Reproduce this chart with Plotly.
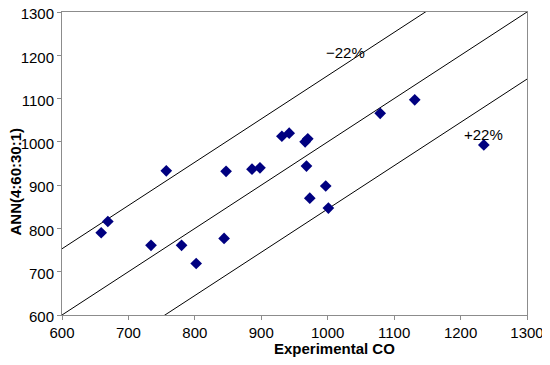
import plotly.graph_objects as go

exp_co = [659, 669, 734, 757, 780, 802, 844, 847, 886, 898, 931, 942, 966, 970, 968, 973, 997, 1001, 1079, 1131, 1235]
ann = [790, 816, 761, 933, 761, 719, 777, 932, 937, 940, 1013, 1020, 1000, 1007, 944, 870, 898, 847, 1066, 1097, 993]

line_x = [600, 1300]
upper_off = 153
lower_off = -155
band_labels = ["\u221222%", "+22%"]

# page body has an 8px margin; figure sized to fill the rest of the 550x365 window
OFF = 8
W, H = 550 - OFF, 365 - OFF
L, R, T, B = 62 - OFF, 23, 12 - OFF, 50
pw = W - L - R
ph = H - T - B


def px(x):
    return (x - OFF - L) / pw


def py(y):
    return (H - B - (y - OFF)) / ph


fig = go.Figure()
fig.add_trace(go.Scatter(x=line_x, y=line_x, mode="lines",
                         line=dict(color="black", width=1), hoverinfo="skip"))
fig.add_trace(go.Scatter(x=line_x, y=[v + upper_off for v in line_x], mode="lines",
                         line=dict(color="black", width=1), hoverinfo="skip"))
fig.add_trace(go.Scatter(x=line_x, y=[v + lower_off for v in line_x], mode="lines",
                         line=dict(color="black", width=1), hoverinfo="skip"))
fig.add_trace(go.Scatter(x=exp_co, y=ann, mode="markers",
                         marker=dict(symbol="diamond", size=9, color="#000080")))

axis_common = dict(range=[600, 1300], dtick=100, showgrid=False, zeroline=False,
                   showline=True, linecolor="#8c8c8c", linewidth=1, mirror=True,
                   ticks="outside", ticklen=4, tickcolor="#8c8c8c", automargin=False,
                   ticklabeloverflow="allow",
                   tickfont=dict(family="Liberation Sans, Arial", size=15, color="black"))

font = dict(family="Liberation Sans, Arial", size=15, color="black")


def label(x, y, text, angle=0):
    return dict(x=px(x), y=py(y), xref="paper", yref="paper", text=text,
                showarrow=False, xanchor="center", yanchor="middle",
                textangle=angle, font=font)


fig.update_layout(
    width=W, height=H,
    margin=dict(l=L, r=R, t=T, b=B, autoexpand=False),
    paper_bgcolor="white", plot_bgcolor="white",
    showlegend=False,
    xaxis=dict(**axis_common),
    yaxis=dict(**axis_common, ticklabelshift=2),
    annotations=[
        label(345, 53, band_labels[0]),
        label(483, 134, band_labels[1]),
        label(334, 348, "<b>Experimental CO</b>"),
        label(14.5, 182, "<b>ANN(4:60:30:1)</b>", -90),
    ],
)

fig.write_html("out.html")
